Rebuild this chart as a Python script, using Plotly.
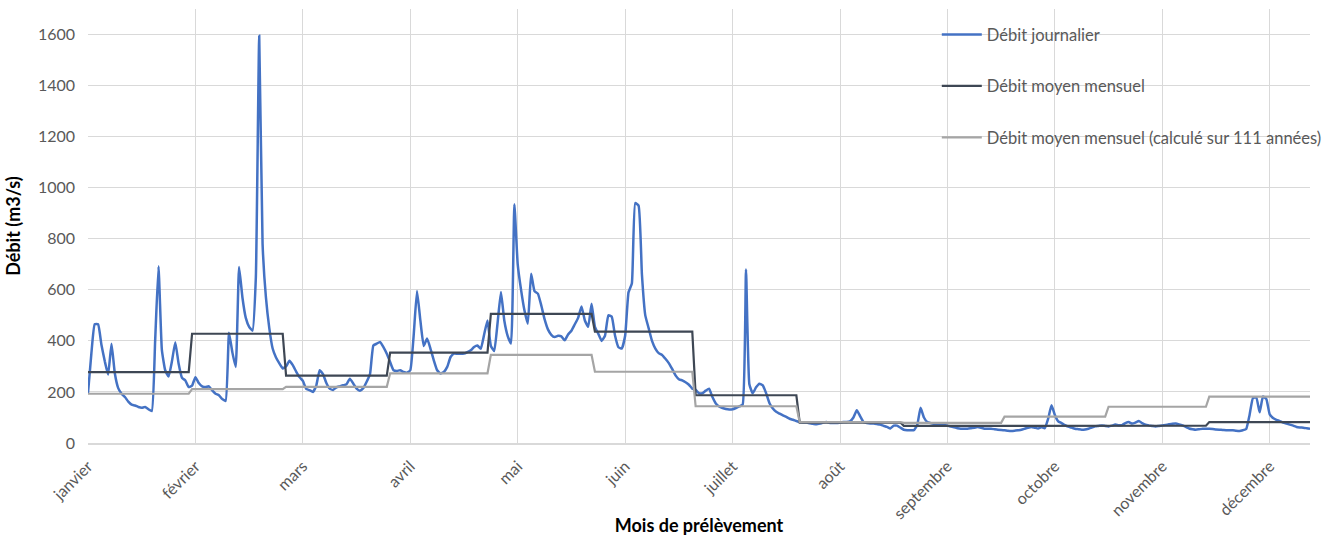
import plotly.graph_objects as go

# Débit journalier (m3/s), one list per month
janvier = [195, 350, 465, 465, 385, 320, 268, 389, 272, 215, 193, 180, 162, 150, 147,
           141, 138, 141, 132, 125, 400, 692, 365, 285, 260, 320, 395, 310, 255, 245, 219]
fevrier = [225, 258, 235, 222, 219, 222, 206, 193, 187, 172, 165, 432, 355, 298, 689,
           570, 490, 455, 440, 650, 1595, 780, 570, 450, 370, 335, 312, 292]
mars = [300, 322, 305, 280, 258, 243, 212, 207, 200, 225, 285, 270, 235, 213, 208,
        218, 222, 226, 230, 252, 233, 213, 205, 215, 240, 270, 382, 389, 396, 376, 350]
avril = [317, 285, 282, 285, 278, 275, 285, 420, 595, 480, 380, 409, 370, 324, 285,
         272, 278, 298, 337, 350, 350, 350, 350, 356, 363, 376, 382, 369, 425, 480]
mai = [380, 360, 470, 591, 480, 420, 390, 935, 700, 600, 520, 467, 663, 595, 585,
       540, 485, 445, 424, 415, 420, 418, 402, 425, 440, 465, 490, 535, 480, 455, 545]
juin = [455, 428, 400, 420, 500, 495, 420, 375, 370, 420, 590, 625, 940, 930, 660,
        500, 450, 400, 370, 352, 345, 330, 313, 290, 265, 250, 245, 238, 228, 213]
juillet = [208, 195, 195, 205, 213, 180, 155, 143, 137, 133, 131, 132, 137, 143, 150,
           680, 230, 195, 218, 232, 226, 195, 156, 135, 122, 115, 108, 102, 95, 91, 86]
aout = [82, 80, 80, 77, 75, 73, 76, 80, 82, 78, 78, 78, 80, 82, 82,
        85, 100, 128, 105, 82, 78, 76, 76, 74, 72, 67, 63, 57, 68, 68, 60]
septembre = [52, 50, 50, 50, 70, 138, 100, 82, 78, 75, 73, 72, 70, 68, 65,
             62, 58, 56, 56, 56, 58, 60, 63, 60, 56, 56, 56, 54, 52, 51]
octobre = [50, 48, 47, 48, 50, 52, 56, 60, 63, 60, 57, 62, 58, 95, 148,
           110, 85, 78, 70, 64, 60, 56, 54, 52, 53, 56, 60, 65, 67, 69, 67]
novembre = [65, 68, 72, 70, 70, 78, 82, 76, 80, 86, 78, 72, 69, 67, 65,
            67, 69, 71, 73, 75, 76, 73, 69, 63, 57, 54, 52, 54, 56, 56]
decembre = [56, 55, 53, 52, 51, 50, 50, 50, 48, 47, 50, 55, 110, 176, 178,
            120, 182, 172, 112, 98, 91, 86, 80, 76, 72, 68, 63, 61, 60, 58, 56]

# Monthly means (m3/s)
debit_moyen_mensuel = [278, 428, 264, 354, 506, 436, 187, 80, 67, 68, 68, 82]
debit_moyen_111_annees = [193, 211, 220, 273, 345, 279, 144, 82, 79, 103, 142, 182]

mois = ["janvier", "février", "mars", "avril", "mai", "juin", "juillet",
        "août", "septembre", "octobre", "novembre", "décembre"]

journalier_par_mois = [janvier, fevrier, mars, avril, mai, juin, juillet,
                       aout, septembre, octobre, novembre, decembre]

debit_journalier = [v for m in journalier_par_mois for v in m]
jours = list(range(len(debit_journalier)))

# Expand monthly means to one value per day
moyen_journalier = []
moyen_111_journalier = []
for m, a, b in zip(journalier_par_mois, debit_moyen_mensuel, debit_moyen_111_annees):
    moyen_journalier += [a] * len(m)
    moyen_111_journalier += [b] * len(m)

# Category ticks every 32 days
tick_pos = [32 * i for i in range(len(mois))]

FONT = "Lato, 'Open Sans', sans-serif"
TXT = "#595959"
GRID = "#D9D9D9"

fig = go.Figure()
fig.add_trace(go.Scatter(
    x=jours, y=debit_journalier, mode="lines", name="Débit journalier",
    line=dict(color="#4472C4", width=2.5, shape="spline", smoothing=0.4),
    legendgroup="a",
))
fig.add_trace(go.Scatter(
    x=jours, y=moyen_journalier, mode="lines", name="Débit moyen mensuel",
    line=dict(color="#3E4754", width=2.2), legendgroup="b",
))
fig.add_trace(go.Scatter(
    x=jours, y=moyen_111_journalier, mode="lines",
    name="Débit moyen mensuel (calculé sur 111 années)",
    line=dict(color="#A5A5A5", width=2.2), legendgroup="c",
))

fig.update_layout(
    width=1337, height=536,
    margin=dict(l=88, r=27, t=9, b=93),
    plot_bgcolor="white", paper_bgcolor="white",
    font=dict(family=FONT, size=16, color=TXT),
    showlegend=True,
    legend=dict(
        x=0.6946, y=0.981, xanchor="left", yanchor="top",
        bgcolor="rgba(0,0,0,0)", borderwidth=0,
        traceorder="grouped", tracegroupgap=27, itemwidth=40,
        font=dict(family=FONT, size=16.5, color=TXT),
    ),
)
fig.update_xaxes(
    range=[0, len(debit_journalier) - 1],
    tickmode="array", tickvals=tick_pos, ticktext=mois, tickangle=-45,
    showgrid=True, gridcolor=GRID, gridwidth=1,
    showline=True, linecolor=GRID, linewidth=1.5,
    zeroline=False, ticks="", ticklabelstandoff=6, automargin=False,
    title=dict(text="<b>Mois de prélèvement</b>",
               font=dict(family=FONT, size=18, color="black"), standoff=4),
)
fig.update_yaxes(
    range=[0, 1700], tickmode="linear", tick0=0, dtick=200,
    showgrid=True, gridcolor=GRID, gridwidth=1,
    zeroline=False, showline=False, ticks="", ticklabelstandoff=12,
    automargin=False,
    title=dict(text="<b>Débit (m3/s)</b>",
               font=dict(family=FONT, size=18, color="black"), standoff=12),
)

fig.write_html("out.html")
